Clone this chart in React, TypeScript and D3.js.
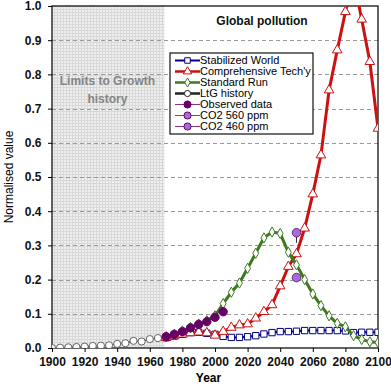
import React, { useEffect, useRef } from 'react';
import * as d3 from 'd3';

// values
const histYears = d3.range(1900, 1971, 5);
const ltgHistory = [0.0, 0.001, 0.002, 0.003, 0.004, 0.006, 0.007, 0.008, 0.012, 0.014, 0.021, 0.019, 0.026, 0.029, 0.033];

const runYears = d3.range(1970, 2101, 5);
const stabilized = [0.03, 0.035, 0.04, 0.045, 0.046, 0.043, 0.04, 0.034, 0.031, 0.031, 0.033, 0.036, 0.041, 0.045, 0.048, 0.048, 0.049, 0.051, 0.051, 0.051, 0.051, 0.051, 0.05, 0.045, 0.046, 0.046, 0.046];
const comprehensive = [0.03, 0.035, 0.04, 0.044, 0.046, 0.044, 0.037, 0.048, 0.06, 0.067, 0.07, 0.087, 0.106, 0.126, 0.181, 0.238, 0.275, 0.35, 0.45, 0.564, 0.754, 0.871, 0.983, 1.08, 0.961, 0.837, 0.642];
const standardRun = [0.033, 0.04, 0.05, 0.06, 0.07, 0.08, 0.094, 0.13, 0.163, 0.19, 0.233, 0.277, 0.322, 0.339, 0.335, 0.28, 0.243, 0.2, 0.158, 0.124, 0.094, 0.072, 0.062, 0.036, 0.025, 0.018, 0.016];

const obsYears = [1970, 1975, 1980, 1985, 1990, 1995, 2000, 2005];
const observed = [0.033, 0.04, 0.048, 0.059, 0.069, 0.077, 0.09, 0.106];

const co2Year = 2050;
const co2_560 = 0.337;
const co2_460 = 0.206;

const xTicks = d3.range(1900, 2101, 20);
const yTicks = d3.range(0, 1.01, 0.1);

const legendLabels = ['Stabilized World', "Comprehensive Tech'y", 'Standard Run', 'LtG history', 'Observed data', 'CO2 560 ppm', 'CO2 460 ppm'];

const W = 391, H = 384;
const m = { left: 52, right: 13, top: 6, bottom: 36 };
const FONT = 'Arial, "Liberation Sans", sans-serif';

const App = () => {
  const ref = useRef<SVGSVGElement>(null);

  useEffect(() => {
    const svg = d3.select(ref.current);
    svg.selectAll('*').remove();

    const x = d3.scaleLinear().domain([1900, 2100]).range([m.left, W - m.right]);
    const y = d3.scaleLinear().domain([0, 1]).range([H - m.bottom, m.top]);

    const defs = svg.append('defs');
    const pat = defs.append('pattern')
      .attr('id', 'hatch').attr('width', 3).attr('height', 3)
      .attr('patternUnits', 'userSpaceOnUse');
    pat.append('rect').attr('width', 3).attr('height', 3).attr('fill', '#efefef');
    pat.append('path').attr('d', 'M0,0.5H3M0.5,0V3').attr('stroke', '#d8d8d8').attr('stroke-width', 1);

    defs.append('clipPath').attr('id', 'plotclip')
      .append('rect')
      .attr('x', m.left).attr('y', m.top)
      .attr('width', W - m.left - m.right).attr('height', H - m.top - m.bottom);

    svg.append('rect')
      .attr('x', m.left).attr('y', m.top)
      .attr('width', W - m.left - m.right).attr('height', H - m.top - m.bottom)
      .attr('fill', 'white');

    // history shading
    svg.append('rect')
      .attr('x', x(1900)).attr('y', m.top)
      .attr('width', x(1969) - x(1900)).attr('height', H - m.top - m.bottom)
      .attr('fill', 'url(#hatch)');

    // gridlines
    svg.append('g').attr('class', 'grid').selectAll('line')
      .data(yTicks.slice(1, -1))
      .join('line')
        .attr('x1', m.left).attr('x2', W - m.right)
        .attr('y1', d => Math.round(y(d)) + 0.5).attr('y2', d => Math.round(y(d)) + 0.5)
        .attr('stroke', '#999').attr('stroke-dasharray', '4,3').attr('stroke-width', 1);

    const hist = svg.append('text')
      .attr('text-anchor', 'middle').attr('font-family', FONT)
      .attr('font-weight', 'bold').attr('font-size', 12).attr('fill', '#858585');
    hist.append('tspan').attr('x', x(1934)).attr('y', 85).text('Limits to Growth');
    hist.append('tspan').attr('x', x(1934)).attr('y', 103).text('history');

    svg.append('text')
      .attr('x', 262).attr('y', 25)
      .attr('text-anchor', 'middle').attr('font-family', FONT)
      .attr('font-weight', 'bold').attr('font-size', 12).attr('fill', '#111')
      .text('Global pollution');

    // frame
    svg.append('rect')
      .attr('x', m.left).attr('y', m.top)
      .attr('width', W - m.left - m.right).attr('height', H - m.top - m.bottom)
      .attr('fill', 'none').attr('stroke', '#111').attr('stroke-width', 1.3);

    // axes
    const xAxis = svg.append('g')
      .attr('transform', `translate(0,${H - m.bottom})`)
      .call(d3.axisBottom(x).tickValues(xTicks).tickFormat(d3.format('d')).tickSize(4));
    xAxis.select('.domain').remove();
    xAxis.selectAll('text').attr('font-family', FONT)
      .attr('font-weight', 'bold').attr('font-size', 12).attr('fill', '#111').attr('dy', '0.9em');

    const yAxis = svg.append('g')
      .attr('transform', `translate(${m.left},0)`)
      .call(d3.axisLeft(y).tickValues(yTicks).tickFormat(d3.format('.1f')).tickSize(4));
    yAxis.select('.domain').remove();
    yAxis.selectAll('text').attr('font-family', FONT)
      .attr('font-weight', 'bold').attr('font-size', 12).attr('fill', '#111').attr('dx', '-0.3em');

    svg.append('text')
      .attr('x', x(1996)).attr('y', 382)
      .attr('text-anchor', 'middle').attr('font-family', FONT)
      .attr('font-weight', 'bold').attr('font-size', 12).text('Year');

    svg.append('text')
      .attr('transform', `translate(13,${y(0.5)}) rotate(-90)`)
      .attr('text-anchor', 'middle').attr('font-family', FONT)
      .attr('font-size', 12).text('Normalised value');

    const plot = svg.append('g').attr('clip-path', 'url(#plotclip)');
    const line = d3.line<[number, number]>().x(d => x(d[0])).y(d => y(d[1]));

    const symOf = (k: string) => k === 'square' ? d3.symbolSquare : k === 'triangle' ? d3.symbolTriangle : k === 'diamond' ? d3.symbolDiamond : d3.symbolCircle;

    const drawSeries = (years: number[], vals: number[], color: string, width: number, marker: string, sz: number, mFill: string, mStroke: string) => {
      const pts = years.map((yr, i) => [yr, vals[i]] as [number, number]);
      if (width > 0) {
        plot.append('path').datum(pts).attr('d', line)
          .attr('fill', 'none').attr('stroke', color).attr('stroke-width', width);
      }
      plot.append('g').selectAll('path')
        .data(pts)
        .join('path')
          .attr('transform', d => `translate(${x(d[0])},${y(d[1])})`)
          .attr('d', d3.symbol().type(symOf(marker)).size(sz))
          .attr('fill', mFill).attr('stroke', mStroke).attr('stroke-width', 1);
    };

    drawSeries(histYears, ltgHistory, '#444', 1.2, 'circle', 40, 'white', '#666');
    drawSeries(runYears, stabilized, '#000080', 2, 'square', 40, 'white', '#000080');
    drawSeries(runYears, comprehensive, '#cc1111', 3, 'triangle', 40, 'white', '#cc1111');
    drawSeries(runYears, standardRun, '#3d7a1f', 3, 'diamond', 30, 'white', '#3d7a1f');
    drawSeries(obsYears, observed, '#660066', 0, 'circle', 55, '#660066', '#660066');

    plot.append('line')
      .attr('x1', x(co2Year)).attr('x2', x(co2Year))
      .attr('y1', y(co2_560) + 4).attr('y2', y(co2_560) + 10)
      .attr('stroke', '#333').attr('stroke-width', 1);
    [co2_560, co2_460].forEach(v => {
      plot.append('circle').attr('cx', x(co2Year)).attr('cy', y(v)).attr('r', 4.3)
        .attr('fill', '#a070d8').attr('stroke', '#660066').attr('stroke-width', 0.8);
    });

    // legend
    const lg = svg.append('g').attr('transform', 'translate(170,53)');
    lg.append('rect').attr('width', 143).attr('height', 81)
      .attr('fill', 'white').attr('stroke', '#111').attr('stroke-width', 1.2);
    const lgStyle = [
      { c: '#000080', w: 2, s: d3.symbolSquare, z: 30, f: 'white', sc: '#000080' },
      { c: '#cc1111', w: 2.5, s: d3.symbolTriangle, z: 30, f: 'white', sc: '#cc1111' },
      { c: '#3d7a1f', w: 2.5, s: d3.symbolDiamond, z: 24, f: 'white', sc: '#3d7a1f' },
      { c: '#222', w: 2.5, s: d3.symbolCircle, z: 30, f: 'white', sc: '#222' },
      { c: '#660066', w: 0.8, s: d3.symbolCircle, z: 40, f: '#660066', sc: '#660066' },
      { c: '#333', w: 0.8, s: d3.symbolCircle, z: 40, f: '#a070d8', sc: '#660066' },
      { c: '#660066', w: 0.8, s: d3.symbolCircle, z: 40, f: '#a070d8', sc: '#660066' },
    ];
    const rows = lg.selectAll('g.row')
      .data(legendLabels)
      .join('g')
        .attr('class', 'row')
        .attr('transform', (d, i) => `translate(0,${7.5 + i * 11})`);
    rows.append('line').attr('x1', 5).attr('x2', 30)
      .attr('stroke', (d, i) => lgStyle[i].c).attr('stroke-width', (d, i) => lgStyle[i].w);
    rows.append('path').attr('transform', 'translate(17.5,0)')
      .attr('d', (d, i) => d3.symbol().type(lgStyle[i].s).size(lgStyle[i].z)())
      .attr('fill', (d, i) => lgStyle[i].f).attr('stroke', (d, i) => lgStyle[i].sc);
    rows.append('text').attr('x', 30).attr('dy', '0.36em')
      .attr('font-family', FONT).attr('font-size', 11)
      .text(d => d);
  }, []);

  return <svg ref={ref} width={W} height={H} style={{ position: 'absolute', left: 0, top: 0, background: 'white' }} />;
};

export default App;
